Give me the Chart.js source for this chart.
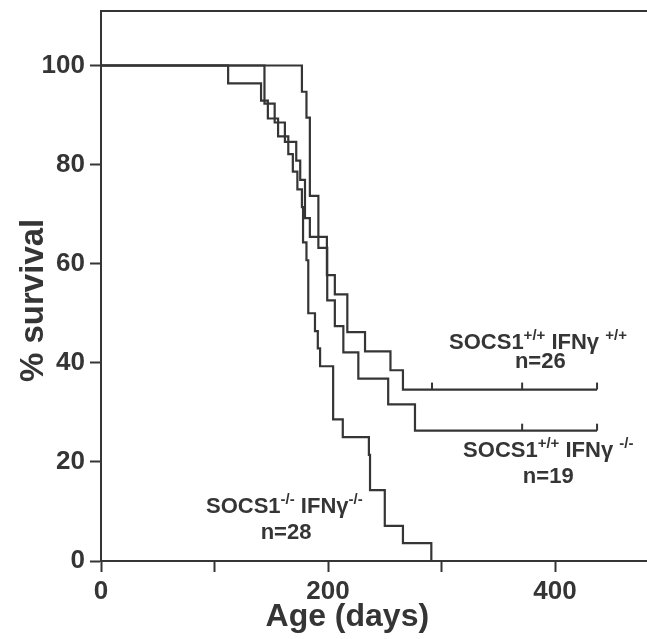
<!DOCTYPE html>
<html><head><meta charset="utf-8">
<script src="https://cdn.jsdelivr.net/npm/chart.js@4"></script>
<style>html,body{margin:0;padding:0;background:#fff;}</style>
</head><body>
<canvas id="c" width="647" height="639"></canvas>
<script>
// SOCS1-/- IFNγ-/-  (n=28)
const daysA = [0,112,141,147,156,165,169,173,177,178,181,182.6,188.5,191,193,204.5,213,236,237,250,266,291];
const survA = [100,96.4,92.9,89.3,85.7,82.1,78.6,75.0,71.4,64.3,60.7,50.0,46.4,42.9,39.3,28.6,25.0,21.4,14.3,7.1,3.6,0];
// SOCS1+/+ IFNγ+/+  (n=26)
const daysB = [0,144,153,162,172,175.5,179.7,184,199,206,217,232.6,255,266,437];
const survB = [100,92.3,88.5,84.6,80.8,76.9,69.2,65.4,57.7,53.8,46.2,42.3,38.5,34.6,34.6];
const censorB = [291.6,371,437];
// SOCS1+/+ IFNγ-/-  (n=19)
const daysC = [0,177,181,184,191.5,199.3,206,213.5,226.7,253,276.6,437];
const survC = [100,94.7,89.5,73.7,63.2,52.6,47.4,42.1,36.8,31.6,26.3,26.3];
const censorC = [371,437];

const xTicks = [0,100,200,300,400];
const xLabels = ['0','','200','','400'];
const yTicks = [0,20,40,60,80,100];
const xTitle = 'Age (days)';
const yTitle = '% survival';

const INK = '#353535';
const FONT = '"Liberation Sans", Arial, Helvetica, sans-serif';

function pts(d, s){ return d.map((x,i)=>({x:x, y:s[i]})); }
function stepVal(d, s, t){ let v = s[0]; for (let i=0;i<d.length;i++){ if (d[i] <= t) v = s[i]; } return v; }

const labels = [
  {x:306.6, y:42.7, parts:[['SOCS1',0],['+/+',1],[' IFNγ ',0],['+/+',1]]},
  {x:387, y:38.9, center:true, parts:[['n=26',0]]},
  {x:319, y:20.9, parts:[['SOCS1',0],['+/+',1],[' IFNγ ',0],['-/-',1]]},
  {x:394, y:15.8, center:true, parts:[['n=19',0]]},
  {x:92.5, y:9.6, parts:[['SOCS1',0],['-/-',1],[' IFNγ',0],['-/-',1]]},
  {x:163, y:4.4, center:true, parts:[['n=28',0]]}
];

const deco = {
  id:'deco',
  afterDatasetsDraw(chart){
    const ctx = chart.ctx, xs = chart.scales.x, ys = chart.scales.y, ca = chart.chartArea;
    ctx.save();
    ctx.strokeStyle = INK; ctx.lineWidth = 2;
    ctx.beginPath(); ctx.moveTo(ca.left-1, ca.top); ctx.lineTo(chart.width, ca.top); ctx.stroke();
    const cz = [[daysB,survB,censorB],[daysC,survC,censorC]];
    cz.forEach(([d,s,c])=>{
      c.forEach(t=>{
        const px = xs.getPixelForValue(t), py = ys.getPixelForValue(stepVal(d,s,t));
        ctx.beginPath(); ctx.moveTo(px, py); ctx.lineTo(px, py-7); ctx.stroke();
      });
    });
    ctx.fillStyle = INK; ctx.textBaseline = 'alphabetic';
    const main = 'bold 22px ' + FONT, sup = 'bold 15px ' + FONT;
    labels.forEach(l=>{
      let w = 0;
      l.parts.forEach(([t,s])=>{ ctx.font = s?sup:main; w += ctx.measureText(t).width; });
      let px = xs.getPixelForValue(l.x); const py = ys.getPixelForValue(l.y);
      if (l.center) px -= w/2;
      ctx.textAlign = 'left';
      l.parts.forEach(([t,s])=>{
        ctx.font = s?sup:main;
        ctx.fillText(t, px, s ? py-9 : py);
        px += ctx.measureText(t).width;
      });
    });
    // axis titles
    ctx.textAlign = 'center'; ctx.textBaseline = 'middle';
    ctx.font = 'bold 32px ' + FONT;
    ctx.fillText(xTitle, xs.getPixelForValue(217), xs.bottom - 22);
    ctx.save();
    ctx.translate(ys.left + 34, ys.getPixelForValue(52.6));
    ctx.rotate(-Math.PI/2);
    ctx.font = 'bold 33px ' + FONT;
    ctx.fillText(yTitle, 0, 0);
    ctx.restore();
    ctx.restore();
  }
};

function ds(d,s){
  return {data:pts(d,s), borderColor:INK, borderWidth:2.2, pointRadius:0, stepped:'before', fill:false, tension:0};
}

new Chart(document.getElementById('c'), {
  type:'line',
  data:{datasets:[ds(daysA,survA), ds(daysB,survB), ds(daysC,survC)]},
  options:{
    responsive:false, animation:false, devicePixelRatio:1,
    layout:{padding:{top:11,right:0,left:0,bottom:0}},
    plugins:{legend:{display:false}, tooltip:{enabled:false}},
    scales:{
      x:{type:'linear', min:0, max:481,
        afterBuildTicks(s){ s.ticks = xTicks.map(v=>({value:v})); },
        afterFit(s){ s.height = 78; s.paddingLeft = 0; s.paddingRight = 0; },
        ticks:{callback:(v,i)=>xLabels[i], color:INK, font:{family:FONT, size:26, weight:'bold'}, padding:4, maxRotation:0, autoSkip:false},
        grid:{display:true, drawOnChartArea:false, drawTicks:true, tickLength:11, tickWidth:2, tickColor:INK},
        border:{display:true, color:INK, width:2},
        title:{display:false}
      },
      y:{type:'linear', min:0, max:111,
        afterBuildTicks(s){ s.ticks = yTicks.map(v=>({value:v})); },
        afterFit(s){ s.width = 101; s.paddingTop = 0; s.paddingBottom = 0; },
        ticks:{color:INK, font:{family:FONT, size:26, weight:'bold'}, padding:5},
        grid:{display:true, drawOnChartArea:false, drawTicks:true, tickLength:11, tickWidth:2, tickColor:INK},
        border:{display:true, color:INK, width:2},
        title:{display:false}
      }
    }
  },
  plugins:[deco]
});
</script>
</body></html>
